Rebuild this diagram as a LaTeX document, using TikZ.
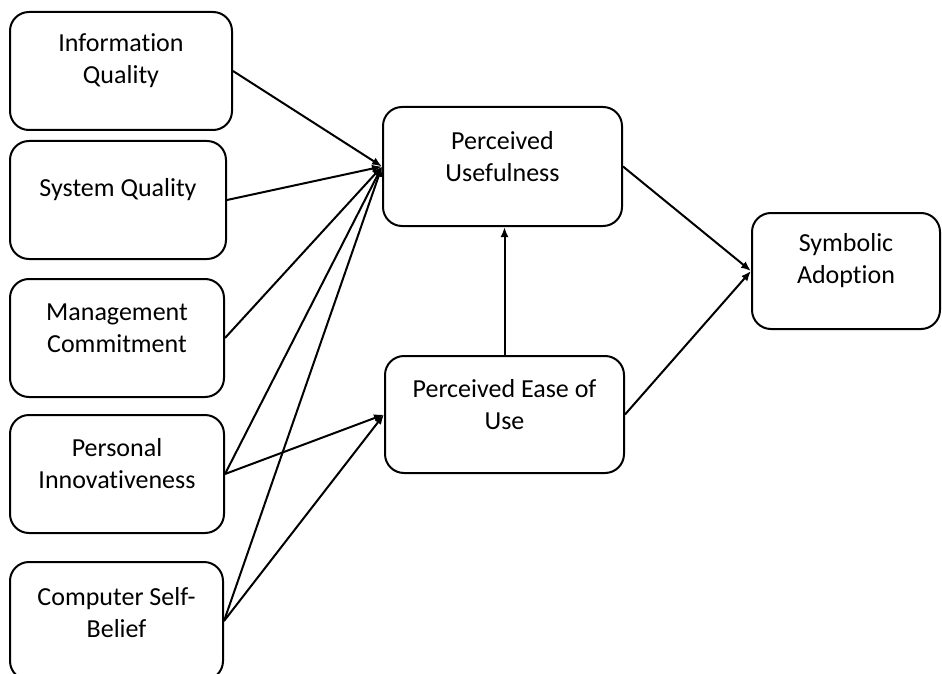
\documentclass[tikz,border=0pt]{standalone}
\usepackage{fontspec}
\setmainfont{Carlito}[Ligatures={NoCommon,NoRequired,NoContextual}]
\usetikzlibrary{arrows.meta}
\begin{document}
\begin{tikzpicture}[x=1pt,y=-1pt,
  box/.style={draw=black, line width=2pt, rounded corners=19pt, fill=white, inner sep=0pt},
  lbl/.style={align=center, font=\fontsize{26}{32}\selectfont, inner sep=0pt},
  arr/.style={draw=black, line width=2pt, -{Latex[length=10pt,width=8pt]}}]
\useasboundingbox (0,0) rectangle (942,674);
% boxes
\node[box, minimum width=222pt, minimum height=118pt] (iq) at (121,71) {};
\node[box, minimum width=216pt, minimum height=118pt] (sq) at (118,200) {};
\node[box, minimum width=214pt, minimum height=118pt] (mc) at (117,338) {};
\node[box, minimum width=214pt, minimum height=118pt] (pi) at (117,474) {};
\node[box, minimum width=213pt, minimum height=118pt] (cs) at (116.5,621) {};
\node[box, minimum width=239pt, minimum height=119pt] (pu) at (502.5,166.5) {};
\node[box, minimum width=239pt, minimum height=117pt] (pe) at (504.5,414.5) {};
\node[box, minimum width=188pt, minimum height=116pt] (sa) at (846,271) {};
% labels
\node[lbl] (iqt) at ([yshift=10pt]iq.center) {Information\\Quality};
\node[lbl] (sqt) at ([yshift=10pt]sq.center) {System Quality};
\node[lbl] (mct) at ([yshift=10pt]mc.center) {Management\\Commitment};
\node[lbl] (pit) at ([yshift=10pt]pi.center) {Personal\\Innovativeness};
\node[lbl] (cst) at ([yshift=8pt]cs.center) {Computer Self-\\Belief};
\node[lbl] (put) at ([yshift=10pt]pu.center) {Perceived\\Usefulness};
\node[lbl] (pet) at ([yshift=10pt]pe.center) {Perceived Ease of\\Use};
\node[lbl] (sat) at ([yshift=10pt]sa.center) {Symbolic\\Adoption};
% connectors
\draw[arr] (iq.east) -- (pu.west);
\draw[arr] (sq.east) -- (pu.west);
\draw[arr] (mc.east) -- (pu.west);
\draw[arr] (pi.east) -- (pu.west);
\draw[arr] (cs.east) -- (pu.west);
\draw[arr] (pi.east) -- (pe.west);
\draw[arr] (cs.east) -- (pe.west);
\draw[arr] (pe.north) -- (pe.north |- pu.south);
\draw[arr] (pu.east) -- (sa.west);
\draw[arr] (pe.east) -- (sa.west);
\end{tikzpicture}
\end{document}
